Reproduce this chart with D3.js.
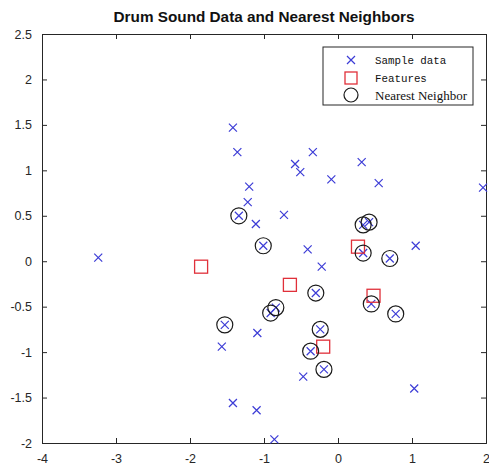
<!DOCTYPE html>
<html>
<head>
<meta charset="utf-8">
<script src="https://cdn.jsdelivr.net/npm/d3@7"></script>
<style>
  body { margin: 0; background: #fff; }
  svg { display: block; }
</style>
</head>
<body>
<script>
// sample data (blue crosses)
var sampleX = [-3.24, -1.42, -1.36, -1.20, -1.22, -1.11, -0.73, -0.58, -0.51, -0.34, -0.09, -0.41,
               -0.22, -1.09, -1.57, -0.47, -1.42, -1.10, -0.86, 0.32, 0.55, 1.96, 1.05, 1.03,
               -1.34, -1.01, -0.30, -0.91, -0.84, -1.53, -0.24, -0.37, -0.19, 0.34, 0.42, 0.34, 0.70, 0.45, 0.78];
var sampleY = [0.04, 1.47, 1.20, 0.82, 0.65, 0.41, 0.51, 1.07, 0.98, 1.20, 0.90, 0.13,
               -0.06, -0.79, -0.94, -1.27, -1.56, -1.64, -1.96, 1.09, 0.86, 0.81, 0.17, -1.40,
               0.50, 0.17, -0.35, -0.57, -0.51, -0.70, -0.75, -0.99, -1.19, 0.40, 0.43, 0.09, 0.03, -0.47, -0.58];

// features (red squares)
var featX = [-1.85, -0.65, -0.20, 0.27, 0.48];
var featY = [-0.06, -0.26, -0.94, 0.16, -0.38];

// nearest neighbors (black circles)
var nbrX = [-1.34, -1.01, -0.30, -0.91, -0.84, -1.53, -0.24, -0.37, -0.19, 0.34, 0.42, 0.34, 0.70, 0.45, 0.78];
var nbrY = [0.50, 0.17, -0.35, -0.57, -0.51, -0.70, -0.75, -0.99, -1.19, 0.40, 0.43, 0.09, 0.03, -0.47, -0.58];

var xTicks = [-4, -3, -2, -1, 0, 1, 2];
var yTicks = [-2, -1.5, -1, -0.5, 0, 0.5, 1, 1.5, 2, 2.5];
var legendLabels = ["Sample data", "Features", "Nearest Neighbor"];

// set the dimensions and margins of the graph
var W = 489, H = 470;
var margin = {top: 34, right: 3, bottom: 27, left: 42},
    width = W - margin.left - margin.right,
    height = H - margin.top - margin.bottom;

var x = d3.scaleLinear().domain([-4, 2]).range([0, width]);
var y = d3.scaleLinear().domain([-2, 2.5]).range([height, 0]);

var svg = d3.select("body").append("svg")
    .attr("width", W)
    .attr("height", H);

var g = svg.append("g")
    .attr("transform", "translate(" + margin.left + "," + margin.top + ")");

var axisColor = "#262626";
var fmt = function(d) { return String(d); };

// axes with inward ticks (box on)
var xb = g.append("g").attr("transform", "translate(0," + height + ")")
    .call(d3.axisBottom(x).tickValues(xTicks).tickSize(-5).tickPadding(9).tickFormat(fmt));
var xt = g.append("g")
    .call(d3.axisTop(x).tickValues(xTicks).tickSize(-5).tickFormat(""));
var yl = g.append("g")
    .call(d3.axisLeft(y).tickValues(yTicks).tickSize(-5).tickPadding(10).tickFormat(fmt));
var yr = g.append("g").attr("transform", "translate(" + width + ",0)")
    .call(d3.axisRight(y).tickValues(yTicks).tickSize(-5).tickFormat(""));

[xb, xt, yl, yr].forEach(function(a) {
  a.select(".domain").attr("stroke", axisColor).attr("stroke-width", 1);
  a.selectAll(".tick line").attr("stroke", axisColor);
  a.selectAll(".tick text")
    .attr("fill", axisColor)
    .style("font-family", "Liberation Sans, Arial, sans-serif")
    .style("font-size", "12.5px");
});
xb.selectAll(".tick text").attr("dy", "0.85em");

// sample data crosses
var crossPath = function(s) { return "M" + (-s) + "," + (-s) + "L" + s + "," + s + "M" + (-s) + "," + s + "L" + s + "," + (-s); };
g.append("g").selectAll("path")
    .data(sampleX.map(function(d, i) { return [d, sampleY[i]]; }))
  .enter().append("path")
    .attr("transform", function(d) { return "translate(" + x(d[0]) + "," + y(d[1]) + ")"; })
    .attr("d", crossPath(4))
    .attr("fill", "none")
    .attr("stroke", "#3c3cd6")
    .attr("stroke-width", 1.2);

// feature squares
g.append("g").selectAll("rect")
    .data(featX.map(function(d, i) { return [d, featY[i]]; }))
  .enter().append("rect")
    .attr("x", function(d) { return x(d[0]) - 6.5; })
    .attr("y", function(d) { return y(d[1]) - 6.5; })
    .attr("width", 13)
    .attr("height", 13)
    .attr("fill", "none")
    .attr("stroke", "#e0303a")
    .attr("stroke-width", 1.3);

// nearest neighbor circles
g.append("g").selectAll("circle")
    .data(nbrX.map(function(d, i) { return [d, nbrY[i]]; }))
  .enter().append("circle")
    .attr("cx", function(d) { return x(d[0]); })
    .attr("cy", function(d) { return y(d[1]); })
    .attr("r", 8)
    .attr("fill", "none")
    .attr("stroke", "#1a1a1a")
    .attr("stroke-width", 1.2);

// title
svg.append("text")
    .attr("x", margin.left + width / 2)
    .attr("y", 22)
    .attr("text-anchor", "middle")
    .style("font-family", "Liberation Sans, Arial, sans-serif")
    .style("font-weight", "bold")
    .style("font-size", "15.3px")
    .attr("fill", "#111")
    .text("Drum Sound Data and Nearest Neighbors");

// legend
var lg = svg.append("g").attr("transform", "translate(323,47)");
lg.append("rect")
    .attr("width", 150).attr("height", 58)
    .attr("fill", "#fff")
    .attr("stroke", axisColor).attr("stroke-width", 1);

var rowY = [13, 31, 48];
lg.append("path").attr("transform", "translate(28," + rowY[0] + ")")
    .attr("d", crossPath(4)).attr("fill", "none").attr("stroke", "#3c3cd6").attr("stroke-width", 1.2);
lg.append("rect").attr("x", 28 - 6).attr("y", rowY[1] - 6).attr("width", 12).attr("height", 12)
    .attr("fill", "none").attr("stroke", "#e0303a").attr("stroke-width", 1.3);
lg.append("circle").attr("cx", 28).attr("cy", rowY[2]).attr("r", 7)
    .attr("fill", "none").attr("stroke", "#1a1a1a").attr("stroke-width", 1.2);

var fonts = ["Liberation Mono, monospace", "Liberation Mono, monospace", "Liberation Serif, serif"];
legendLabels.forEach(function(t, i) {
  lg.append("text")
    .attr("x", 52).attr("y", rowY[i])
    .attr("dy", "0.35em")
    .style("font-family", fonts[i])
    .style("font-size", i < 2 ? "10.8px" : "13px")
    .attr("fill", "#111")
    .text(t);
});
</script>
</body>
</html>
